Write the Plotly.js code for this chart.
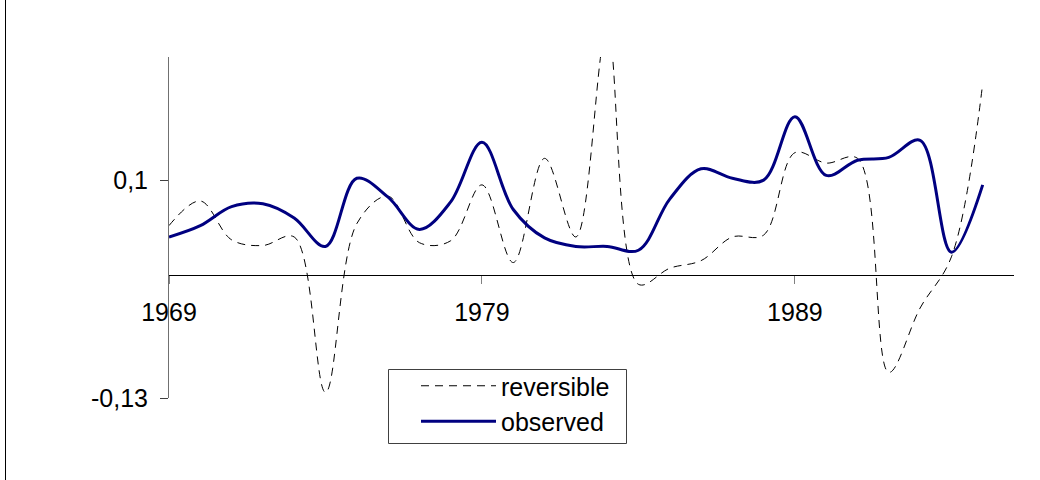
<!DOCTYPE html>
<html>
<head>
<meta charset="utf-8">
<script src="https://cdn.plot.ly/plotly-3.0.1.min.js"></script>
<style>
  html, body { margin: 0; padding: 0; background: #ffffff; }
  #chart { width: 1040px; height: 480px; }
</style>
</head>
<body>
<div id="chart"></div>
<script>
const years = [1969, 1970, 1971, 1972, 1973, 1974, 1975, 1976, 1977, 1978,
               1979, 1980, 1981, 1982, 1983, 1984, 1985, 1986, 1987, 1988,
               1989, 1990, 1991, 1992, 1993, 1994, 1995];

const reversible = [0.052, 0.078, 0.037, 0.031, 0.040, -0.124, 0.054, 0.083, 0.034, 0.036,
                    0.095, 0.013, 0.123, 0.040, 0.260, -0.010, 0.007, 0.015, 0.040, 0.042,
                    0.129, 0.118, 0.123, -0.103, -0.035, 0.019, 0.202];

const observed = [0.040, 0.052, 0.072, 0.075, 0.060, 0.030, 0.102, 0.082, 0.048, 0.077,
                  0.140, 0.069, 0.039, 0.030, 0.030, 0.026, 0.080, 0.112, 0.102, 0.100,
                  0.167, 0.105, 0.121, 0.124, 0.142, 0.024, 0.095];

const seriesNames = ['reversible', 'observed'];

const xTickVals = [1969, 1979, 1989];
const xTickText = ['1969', '1979', '1989'];
const yTickVals = [-0.13, 0.1];
const yTickText = ['-0,13', '0,1'];

const FONT = '"Liberation Sans", Arial, sans-serif';

const traces = [
  {
    x: years, y: reversible, name: seriesNames[0], type: 'scatter', mode: 'lines',
    line: { color: '#000000', width: 1, dash: '8px,6px', shape: 'spline', smoothing: 1 },
    hoverinfo: 'skip'
  },
  {
    x: years, y: observed, name: seriesNames[1], type: 'scatter', mode: 'lines',
    line: { color: '#000080', width: 3, shape: 'spline', smoothing: 1 },
    hoverinfo: 'skip'
  }
];

const L = 169, R = 26, T = 57, B = 82;
const plotW = 1040 - L - R, plotH = 480 - T - B;
const px2x = (px) => (px - L) / plotW;
const px2y = (py) => (480 - B - py) / plotH;

const layout = {
  width: 1040, height: 480,
  margin: { l: L, r: R, t: T, b: B, pad: 0 },
  paper_bgcolor: '#ffffff', plot_bgcolor: '#ffffff',
  font: { family: FONT, size: 25, color: '#000000' },
  showlegend: true,
  xaxis: {
    range: [1969, 1996],
    anchor: 'free', position: 0.13 / 0.36,
    tickmode: 'array', tickvals: xTickVals, ticktext: xTickText,
    ticks: 'outside', ticklen: 8, tickcolor: '#808080', tickwidth: 1,
    showline: true, linecolor: '#000000', linewidth: 1,
    showgrid: false, zeroline: false,
    ticklabelstandoff: 7,
    tickfont: { family: FONT, size: 25, color: '#000000' }
  },
  yaxis: {
    range: [-0.13, 0.23],
    tickmode: 'array', tickvals: yTickVals, ticktext: yTickText,
    ticks: 'outside', ticklen: 8, tickcolor: '#404040', tickwidth: 1,
    showline: true, linecolor: '#707070', linewidth: 1,
    showgrid: false, zeroline: false,
    ticklabelstandoff: 7,
    tickfont: { family: FONT, size: 25, color: '#000000' }
  },
  legend: {
    x: px2x(416), y: px2y(363),
    xanchor: 'left', yanchor: 'top',
    bgcolor: 'rgba(0,0,0,0)', borderwidth: 0,
    font: { family: FONT, size: 25, color: '#000000' },
    itemwidth: 75,
    tracegroupgap: 0
  },
  shapes: [
    {
      type: 'line', xref: 'paper', yref: 'paper',
      x0: px2x(5.5), x1: px2x(5.5), y0: px2y(480), y1: px2y(0),
      line: { color: '#000000', width: 1 }
    },
    {
      type: 'rect', xref: 'paper', yref: 'paper', layer: 'above',
      x0: px2x(388.5), x1: px2x(626.5), y0: px2y(443.5), y1: px2y(369.5),
      fillcolor: '#ffffff', line: { color: '#404040', width: 1 }
    }
  ]
};

Plotly.newPlot('chart', traces, layout, { staticPlot: true, displayModeBar: false });
</script>
</body>
</html>
